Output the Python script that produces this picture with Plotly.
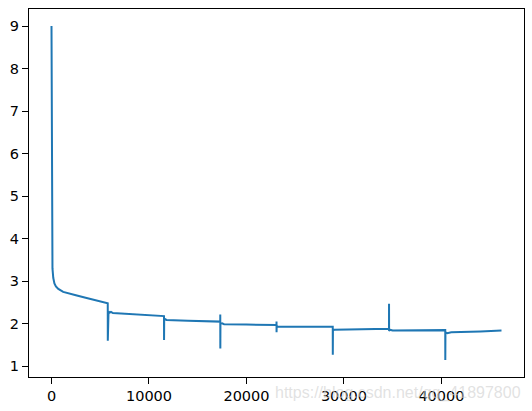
import plotly.graph_objects as go

# iteration index (x) and loss value (y)
iterations = [
    0, 30, 60, 100, 180, 300, 450, 700, 1200, 1600, 2500, 3500, 4500, 5760,
    5770, 5775, 5790, 5850, 5950, 6100, 6300, 9000, 11530,
    11540, 11545, 11560, 11650, 11800, 14000, 17300,
    17310, 17312, 17318, 17330, 17500, 17700, 20000, 23070,
    23080, 23082, 23086, 23100, 23200, 25000, 28840,
    28850, 28855, 28870, 29000, 31000, 34610,
    34620, 34623, 34630, 34700, 35000, 38000, 40380,
    40390, 40395, 40410, 40600, 41000, 44000, 46160,
]
loss = [
    9.00, 5.00, 3.80, 3.30, 3.08, 2.95, 2.88, 2.82, 2.75, 2.72, 2.67, 2.61, 2.55, 2.49,
    2.48, 1.60, 2.20, 2.29, 2.26, 2.28, 2.25, 2.21, 2.18,
    2.18, 1.62, 2.08, 2.11, 2.09, 2.07, 2.05,
    2.05, 2.22, 1.42, 2.00, 2.01, 1.99, 1.98, 1.97,
    1.97, 2.05, 1.80, 1.95, 1.93, 1.93, 1.93,
    1.93, 1.27, 1.84, 1.86, 1.87, 1.88,
    1.88, 2.47, 1.83, 1.86, 1.84, 1.85, 1.85,
    1.85, 1.15, 1.80, 1.78, 1.80, 1.82, 1.84,
]
x_ticks = [0, 10000, 20000, 30000, 40000]
y_ticks = [1, 2, 3, 4, 5, 6, 7, 8, 9]
watermark = "https://blog.csdn.net/qq_41897800"

fig = go.Figure()
fig.add_trace(go.Scatter(
    x=iterations, y=loss, mode="lines",
    line=dict(color="#1f77b4", width=2),
    showlegend=False, hoverinfo="skip",
))

axis_common = dict(
    showline=True, linecolor="black", linewidth=1, mirror=True,
    ticks="outside", ticklen=6, tickwidth=1, tickcolor="black",
    showgrid=False, zeroline=False,
    tickfont=dict(family="DejaVu Sans", size=14.5, color="black"),
)

fig.update_layout(
    width=532, height=411,
    margin=dict(l=29, r=8, t=9, b=34, autoexpand=False),
    paper_bgcolor="white", plot_bgcolor="white",
    xaxis=dict(range=[-2308, 48468], tickvals=x_ticks,
               ticktext=[str(v) for v in x_ticks], **axis_common),
    yaxis=dict(range=[0.748, 9.4], tickvals=y_ticks,
               ticktext=[str(v) for v in y_ticks], **axis_common),
    annotations=[dict(
        text=watermark, xref="paper", yref="paper",
        x=0.998, y=-0.043, xanchor="right", yanchor="middle",
        showarrow=False,
        font=dict(family="Liberation Sans", size=16, color="rgba(210,210,210,0.65)"),
    )],
)

fig.write_html(
    "out.html",
    config={"displayModeBar": False},
    post_script="document.body.style.margin='0';document.body.style.padding='0';",
)
